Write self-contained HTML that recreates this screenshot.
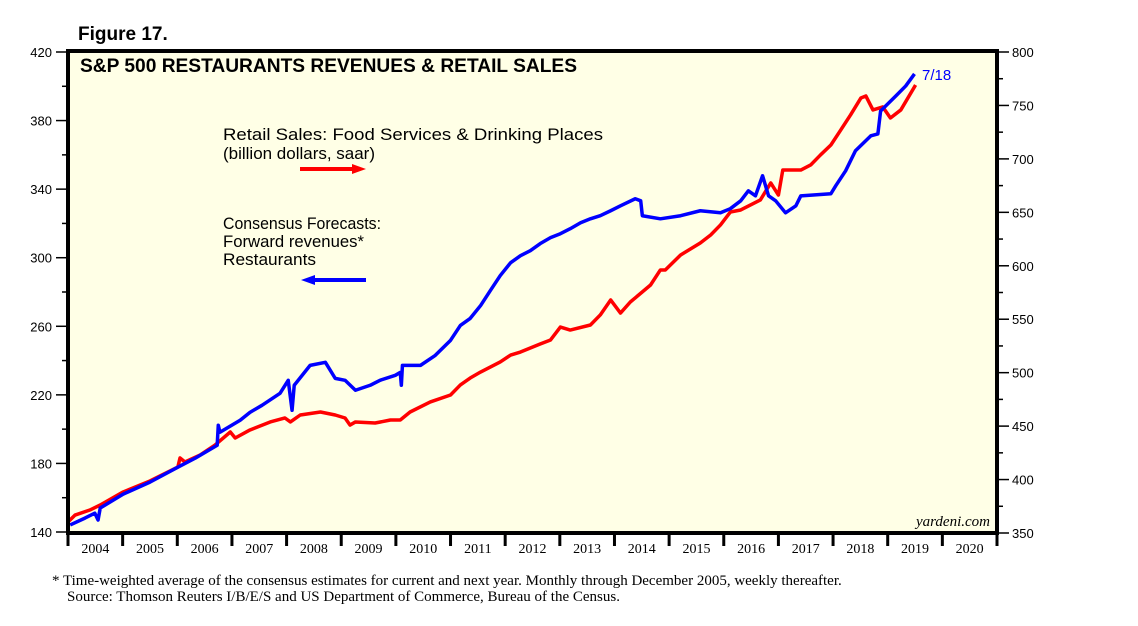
<!DOCTYPE html>
<html><head><meta charset="utf-8"><style>
body{margin:0;background:#fff;width:1138px;height:621px;overflow:hidden;font-family:"Liberation Sans",sans-serif}
svg text{font-family:"Liberation Sans",sans-serif}
.serif{font-family:"Liberation Serif",serif}
</style></head><body>
<svg id="c" width="1138" height="621">
<text x="78" y="40" font-size="19" font-weight="bold">Figure 17.</text>
<rect x="68" y="51" width="929" height="482" fill="#ffffe6" stroke="none"/>
<g id="axes"></g>
<g id="series"></g>
<rect x="68" y="51" width="929" height="482" fill="none" stroke="#000" stroke-width="4"/>
<text x="80" y="72" font-size="19" font-weight="bold" textLength="497" lengthAdjust="spacingAndGlyphs">S&amp;P 500 RESTAURANTS REVENUES &amp; RETAIL SALES</text>
<text x="223" y="140" font-size="17" textLength="380" lengthAdjust="spacingAndGlyphs">Retail Sales: Food Services &amp; Drinking Places</text>
<text x="223" y="159" font-size="17" textLength="152" lengthAdjust="spacingAndGlyphs">(billion dollars, saar)</text>
<g><line x1="300" y1="169" x2="355" y2="169" stroke="#f00" stroke-width="4"/><polygon points="352,164 366,169 352,174" fill="#f00"/></g>
<text x="223" y="229" font-size="17" textLength="158" lengthAdjust="spacingAndGlyphs">Consensus Forecasts:</text>
<text x="223" y="247" font-size="17" textLength="141" lengthAdjust="spacingAndGlyphs">Forward revenues*</text>
<text x="223" y="265" font-size="17" textLength="93" lengthAdjust="spacingAndGlyphs">Restaurants</text>
<g><line x1="312" y1="280" x2="366" y2="280" stroke="#00f" stroke-width="4"/><polygon points="315,275 301,280 315,285" fill="#00f"/></g>
<text x="922" y="80" font-size="15" fill="#00f">7/18</text>
<text x="990" y="526" font-size="15" font-style="italic" text-anchor="end" class="serif">yardeni.com</text>
<text x="52" y="585" font-size="15" class="serif">*   Time-weighted average of the consensus estimates for current and next year. Monthly through December 2005, weekly thereafter.</text>
<text x="67" y="601" font-size="15" class="serif">Source: Thomson Reuters I/B/E/S and US Department of Commerce, Bureau of the Census.</text>
</svg>
<script>
const leftTicks=[140,180,220,260,300,340,380,420];
const rightTicks=[350,400,450,500,550,600,650,700,750,800];
const years=[2004,2005,2006,2007,2008,2009,2010,2011,2012,2013,2014,2015,2016,2017,2018,2019,2020];
const blueT=[2004.04,2004.31,2004.49,2004.55,2004.59,2005.01,2005.5,2006.01,2006.33,2006.73,2006.75,2006.78,2007.15,2007.33,2007.55,2007.88,2008.03,2008.1,2008.14,2008.43,2008.71,2008.89,2009.07,2009.26,2009.53,2009.71,2009.99,2010.08,2010.1,2010.12,2010.45,2010.72,2011.0,2011.18,2011.36,2011.55,2011.73,2011.91,2012.1,2012.28,2012.46,2012.64,2012.83,2013.01,2013.19,2013.38,2013.56,2013.74,2013.93,2014.11,2014.38,2014.48,2014.51,2014.84,2015.21,2015.57,2015.94,2016.12,2016.31,2016.45,2016.58,2016.71,2016.82,2016.95,2017.13,2017.32,2017.41,2017.96,2018.05,2018.23,2018.41,2018.69,2018.82,2018.87,2019.15,2019.33,2019.49];
const blueV=[144.1,148.1,151.0,147.0,154.0,162.1,169.1,177.8,183.1,190.6,202.3,198.2,205.2,209.8,213.9,220.9,228.5,211.0,225.6,237.2,239.0,229.6,228.5,222.7,225.6,228.5,231.4,233.1,225.6,237.2,237.2,243.0,251.8,260.5,264.6,272.1,280.9,289.6,297.1,301.2,304.1,308.2,311.7,314.0,316.9,320.4,322.7,324.5,327.4,330.3,334.4,333.2,324.5,322.7,324.5,327.4,326.2,328.6,333.2,339.0,336.1,347.8,336.1,333.2,326.2,330.3,336.1,337.3,342.0,350.7,362.4,371.1,372.2,385.6,394.4,400.2,407.2];
const redT=[2004.0,2004.13,2004.4,2004.59,2005.01,2005.5,2006.01,2006.05,2006.14,2006.42,2006.69,2006.97,2007.06,2007.33,2007.7,2007.97,2008.07,2008.25,2008.62,2008.89,2009.07,2009.16,2009.26,2009.62,2009.9,2010.08,2010.26,2010.63,2011.0,2011.18,2011.36,2011.55,2011.91,2012.1,2012.28,2012.64,2012.83,2013.01,2013.19,2013.56,2013.74,2013.93,2014.11,2014.29,2014.66,2014.84,2014.93,2015.21,2015.57,2015.76,2015.94,2016.12,2016.31,2016.67,2016.86,2017.0,2017.08,2017.41,2017.59,2017.77,2017.96,2018.14,2018.32,2018.51,2018.6,2018.73,2018.91,2019.05,2019.24,2019.51];
const redV=[360.3,366.8,371.5,376.2,388.4,398.7,411.7,420.2,416.4,423.0,432.3,444.5,438.9,446.4,453.9,457.6,453.9,460.4,463.2,460.4,457.6,451.0,453.9,452.9,455.7,455.7,463.2,472.6,479.1,488.5,495.0,500.6,510.0,516.5,519.3,526.8,530.6,542.7,539.9,544.6,554.0,568.0,555.8,566.1,582.0,596.1,596.1,610.1,621.3,628.8,638.2,650.3,652.2,661.6,677.5,666.2,689.6,689.6,694.3,703.7,713.0,727.0,741.1,757.0,758.9,745.8,748.6,738.3,745.8,769.1];
const X0=68,X1=997,Y0=532,Y1=52;
const xs=t=>X0+(t-2004)/17*(X1-X0);
const yl=v=>Y0-(v-140)/280*(Y0-Y1);
const yr=v=>533-(v-350)/450*(533-Y1);
const NS='http://www.w3.org/2000/svg';
const ax=document.getElementById('axes'),se=document.getElementById('series');
function mk(tag,at,par){const e=document.createElementNS(NS,tag);for(const k in at)e.setAttribute(k,at[k]);par.appendChild(e);return e;}
leftTicks.forEach((v,i)=>{
  const y=yl(v);
  const t=mk('line',{x1:56,x2:68,y1:y,y2:y,stroke:'#000','stroke-width':1.5},ax);
  
  
  const l=mk('text',{x:52,y:y+5,'font-size':13,'text-anchor':'end'},ax);l.textContent=v;
  
  
  if(i<leftTicks.length-1){const ym=yl(v+20);const m=mk('line',{x1:62,x2:68,y1:ym,y2:ym,stroke:'#000','stroke-width':1.5},ax);
  
  }
});
rightTicks.forEach((v,i)=>{
  const y=yr(v);
  const t=mk('line',{x1:997,x2:1009,y1:y,y2:y,stroke:'#000','stroke-width':1.5},ax);
  
  
  const l=mk('text',{x:1012,y:y+5,'font-size':13},ax);l.textContent=v;
  
  
  if(i<rightTicks.length-1){const ym=yr(v+25);const m=mk('line',{x1:997,x2:1003,y1:ym,y2:ym,stroke:'#000','stroke-width':1.5},ax);
  
  }
});
years.forEach(yv=>{
  const x=xs(yv);
  const t=mk('line',{x1:x,x2:x,y1:533,y2:546,stroke:'#000','stroke-width':3},ax);
  
  
  const l=mk('text',{x:xs(yv+0.5),y:553,'font-size':14,'text-anchor':'middle',class:'serif'},ax);l.textContent=yv;
  
  
});
const e=mk('line',{x1:X1,x2:X1,y1:533,y2:546,stroke:'#000','stroke-width':3},ax);


const rp=mk('polyline',{points:redT.map((t,i)=>xs(t)+','+yr(redV[i])).join(' '),fill:'none',stroke:'#f00','stroke-width':3.5,'stroke-linejoin':'round'},se);


const bp=mk('polyline',{points:blueT.map((t,i)=>xs(t)+','+yl(blueV[i])).join(' '),fill:'none',stroke:'#00f','stroke-width':3.5,'stroke-linejoin':'round'},se);


</script>
</body></html>
